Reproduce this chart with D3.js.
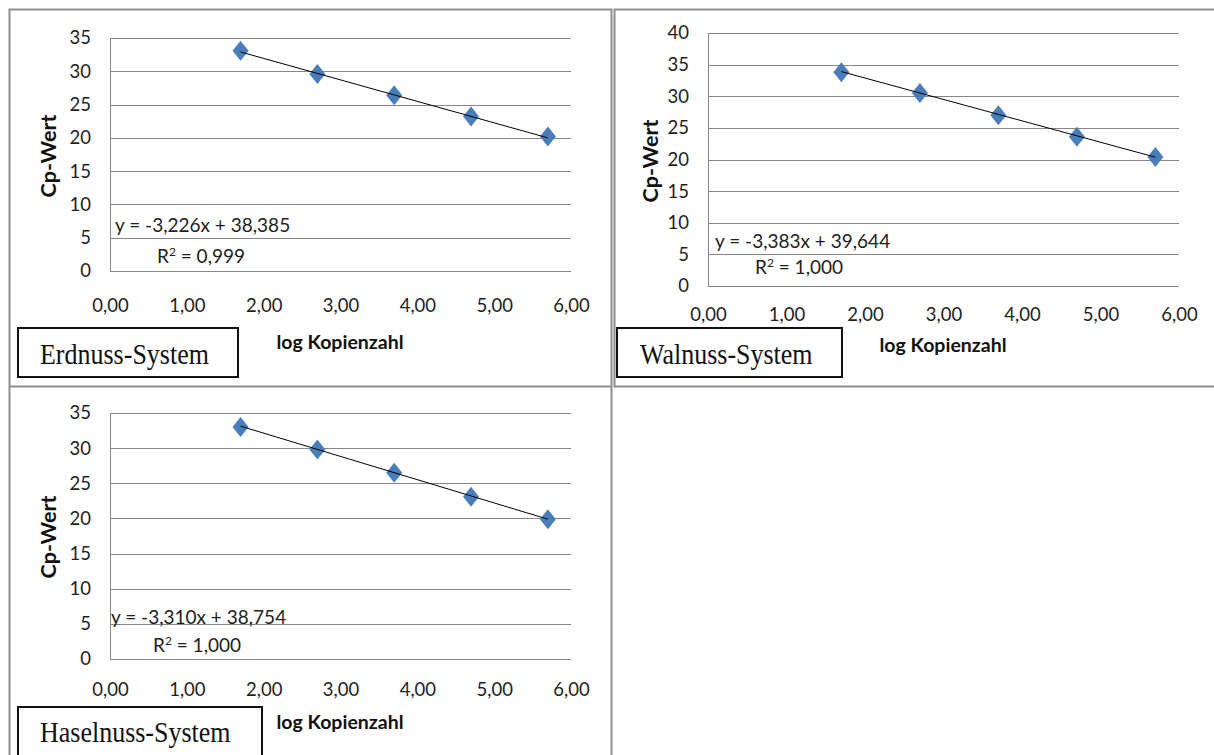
<!DOCTYPE html>
<html>
<head>
<meta charset="utf-8">
<script src="https://cdn.jsdelivr.net/npm/d3@7"></script>
<style>
  html, body { margin: 0; padding: 0; background: #fff; }
  svg { display: block; }
</style>
</head>
<body>
<svg id="chart" width="1214" height="755"></svg>
<script>
// log10 of the copy numbers in the dilution series (50 ... 500 000 copies)
const logKopienzahl = [1.699, 2.699, 3.699, 4.699, 5.699];
// measured Cp values per detection system
const cpErdnuss   = [33.1, 29.6, 26.4, 23.2, 20.2];
const cpWalnuss   = [33.8, 30.5, 27.0, 23.6, 20.4];
const cpHaselnuss = [33.0, 29.8, 26.5, 23.1, 19.9];
const systemNames = ["Erdnuss-System", "Walnuss-System", "Haselnuss-System"];
// linear trendline of each standard curve
const fitSlopes     = [-3.226, -3.383, -3.310];
const fitIntercepts = [38.385, 39.644, 38.754];
const fitR2         = ["0,999", "1,000", "1,000"];
// axis ticks
const xTickValues = [0, 1, 2, 3, 4, 5, 6];
const yMaxValues  = [35, 40, 35];
const xTitle = "log Kopienzahl";
const yTitle = "Cp-Wert";

const series = [cpErdnuss, cpWalnuss, cpHaselnuss];

// placement of the three chart cells
const layout = [
  { left: 110, right: 571, top: 38, bottom: 271, xLabelY: 312, xTitleX: 340, xTitleY: 349,
    yTitleX: 56, yTitleY: 156, eqX: 115, eqY: 232, r2X: 157, r2Y: 263,
    box: { x: 18, y: 328, w: 220, h: 49 }, nameX: 40, nameY: 364 },
  { left: 708, right: 1179, top: 33, bottom: 286, xLabelY: 321, xTitleX: 943, xTitleY: 352,
    yTitleX: 658, yTitleY: 161, eqX: 715, eqY: 248, r2X: 755, r2Y: 274,
    box: { x: 617, y: 328, w: 225, h: 49 }, nameX: 640, nameY: 364 },
  { left: 110, right: 571, top: 413, bottom: 659, xLabelY: 696, xTitleX: 340, xTitleY: 729,
    yTitleX: 56, yTitleY: 537, eqX: 111, eqY: 624, r2X: 153, r2Y: 652,
    box: { x: 18, y: 707, w: 244, h: 60 }, nameX: 40, nameY: 742 }
];

const SANS = "Lato, 'Open Sans', sans-serif";
const SERIF = "'Liberation Serif', 'Times New Roman', serif";
const GRID = "#868686";
const MARKER = "#4a7ebb";
const INK = "#1e1e1e";

const svg = d3.select("#chart");
svg.append("rect").attr("width", 1214).attr("height", 755).attr("fill", "#fff");

// table cell borders
const cells = svg.append("g").attr("fill", "none").attr("stroke", "#8e8e8e").attr("stroke-width", 2);
cells.append("path").attr("d", "M9.5,760 V9.5 H611.5 V760");
cells.append("path").attr("d", "M9.5,386.5 H611.5");
cells.append("path").attr("d", "M1220,9.5 H614.5 V386.5 H1220");

const commaFmt = f => d3.format(".3f")(Math.abs(f)).replace(".", ",");
const tickFmt = v => d3.format(".2f")(v).replace(".", ",");

function stretchedText(g, x, y, str, sy) {
  return g.append("text")
    .attr("transform", `translate(${x},${y}) scale(1,${sy})`)
    .text(str);
}

layout.forEach((L, i) => {
  const g = svg.append("g");
  const x = d3.scaleLinear().domain([0, 6]).range([L.left, L.right]);
  const y = d3.scaleLinear().domain([0, yMaxValues[i]]).range([L.bottom, L.top]);
  const yTicks = d3.range(0, yMaxValues[i] + 1, 5);

  // horizontal gridlines + y tick labels
  const yAxis = d3.axisLeft(y).tickValues(yTicks).tickSize(-(L.right - L.left)).tickPadding(19).tickFormat(d3.format("d"));
  const ya = g.append("g").attr("transform", `translate(${L.left},0)`).call(yAxis);
  ya.select(".domain").attr("stroke", GRID).attr("d", `M0.5,${L.top}V${L.bottom}`);
  ya.selectAll(".tick line").attr("stroke", GRID).attr("shape-rendering", "crispEdges");
  ya.selectAll(".tick text").attr("font-family", SANS).attr("font-size", 18.5).attr("fill", INK);

  // x tick labels
  const xAxis = d3.axisBottom(x).tickValues(xTickValues).tickSize(0).tickFormat(tickFmt);
  const xa = g.append("g").attr("transform", `translate(0,${L.bottom})`).call(xAxis);
  xa.select(".domain").remove();
  xa.selectAll(".tick text").attr("font-family", SANS).attr("font-size", 18.5).attr("fill", INK)
    .attr("dy", null).attr("y", L.xLabelY - L.bottom);

  // axis titles
  g.append("text").attr("x", L.xTitleX).attr("y", L.xTitleY).attr("text-anchor", "middle")
    .attr("font-family", SANS).attr("font-weight", 700).attr("font-size", 19.5).attr("fill", "#111")
    .text(xTitle);
  g.append("text").attr("transform", `translate(${L.yTitleX},${L.yTitleY}) rotate(-90)`)
    .attr("text-anchor", "middle").attr("font-family", SANS).attr("font-weight", 700)
    .attr("font-size", 21.5).attr("fill", "#111").text(yTitle);

  // markers
  const pts = logKopienzahl.map((lx, k) => [lx, series[i][k]]);
  const diamond = "M0,-10 L8,0 L0,10 L-8,0 Z";
  g.append("g").selectAll("path").data(pts).join("path")
    .attr("transform", d => `translate(${x(d[0])},${y(d[1])})`)
    .attr("d", diamond).attr("fill", MARKER);

  // linear trendline from the stated fit
  const x0 = logKopienzahl[0], x1 = logKopienzahl[logKopienzahl.length - 1];
  const trend = [x0, x1].map(v => [v, fitSlopes[i] * v + fitIntercepts[i]]);
  g.append("path").datum(trend)
    .attr("d", d3.line().x(d => x(d[0])).y(d => y(d[1])))
    .attr("stroke", "#000").attr("stroke-width", 1).attr("fill", "none");

  // trendline equation
  const eq = `y = ${fitSlopes[i] < 0 ? "-" : ""}${commaFmt(fitSlopes[i])}x + ${commaFmt(fitIntercepts[i])}`;
  const te = g.append("g").attr("font-family", SANS).attr("font-size", 19).attr("fill", INK);
  te.append("text").attr("x", L.eqX).attr("y", L.eqY).text(eq);
  const r2 = te.append("text").attr("x", L.r2X).attr("y", L.r2Y);
  r2.append("tspan").text("R");
  r2.append("tspan").attr("font-size", 12).attr("dy", -7).text("2");
  r2.append("tspan").attr("dy", 7).text(` = ${fitR2[i]}`);

  // system name box
  g.append("rect").attr("x", L.box.x).attr("y", L.box.y).attr("width", L.box.w).attr("height", L.box.h)
    .attr("fill", "#fff").attr("stroke", "#111").attr("stroke-width", 2);
  stretchedText(g, L.nameX, L.nameY, systemNames[i], 1.15)
    .attr("font-family", SERIF).attr("font-size", 26).attr("fill", "#111");
});
</script>
</body>
</html>
